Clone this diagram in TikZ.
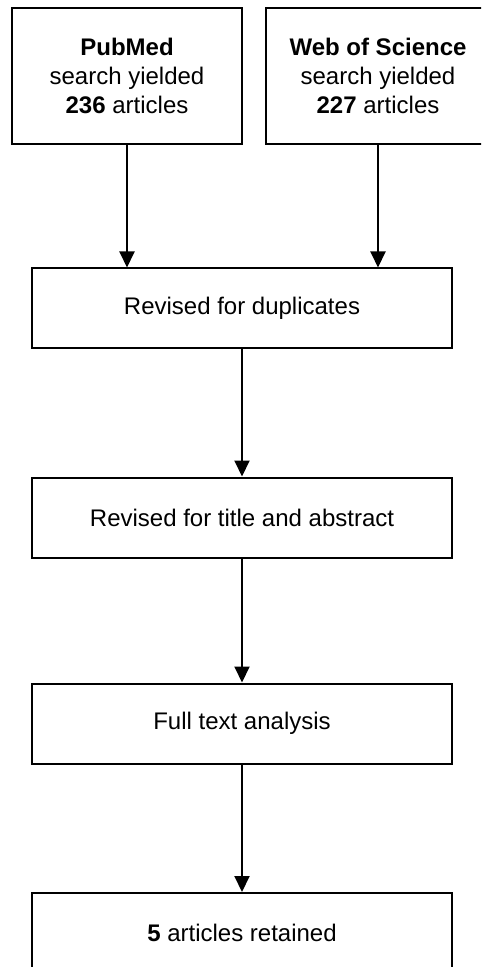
\documentclass[tikz,border=0pt]{standalone}
\usepackage{fontspec}
\setmainfont{Liberation Sans}
\usetikzlibrary{arrows.meta,positioning}

\begin{document}
\begin{tikzpicture}[x=0.5pt, y=-0.5pt, >={Triangle[length=8pt, width=7.5pt]},
    box/.style={draw, line width=1pt, rectangle, align=center, inner sep=0pt,
        minimum width=210pt, minimum height=40pt, font=\fontsize{12}{14.4}\selectfont},
    flow/.style={->, line width=1pt}]
    % page frame, 481 x 967 px; the last box runs off the bottom edge
    \clip (0,0) rectangle (481,967);

    % Search sources
    \node[box, minimum width=115pt, minimum height=68pt] (pubmed) at (127,76)
        {\textbf{PubMed}\\search yielded\\\textbf{236} articles};
    \node[box, minimum width=112pt, minimum height=68pt] (wos) at (378,76)
        {\textbf{Web of Science}\\search yielded\\\textbf{227} articles};

    % Screening steps
    \node[box] (dup) at (242,308.5) {Revised for duplicates};
    \node[box] (title) at (242,517.5) {Revised for title and abstract};
    \node[box] (full) at (242,723.5) {Full text analysis};
    \node[box] (kept) at (242,933) {\textbf{5} articles retained};

    % Arrows
    \draw[flow] (pubmed.south) -- (pubmed.south |- dup.north);
    \draw[flow] (wos.south) -- (wos.south |- dup.north);
    \draw[flow] (dup) -- (title);
    \draw[flow] (title) -- (full);
    \draw[flow] (full) -- (kept);
\end{tikzpicture}
\end{document}
